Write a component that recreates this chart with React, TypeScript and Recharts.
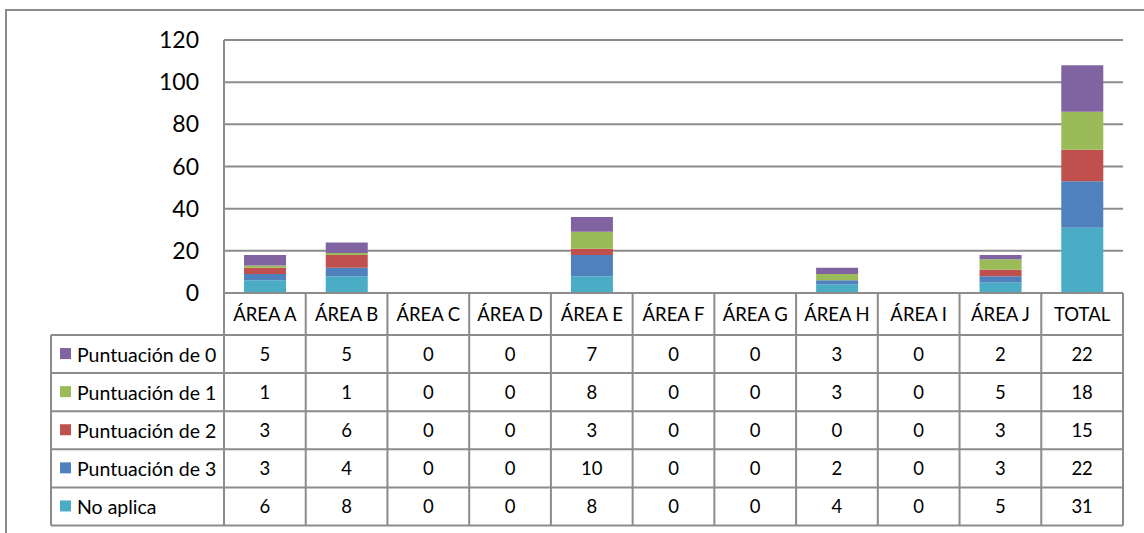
import { BarChart, Bar, XAxis, YAxis, CartesianGrid } from "recharts";

const categories = [
  "ÁREA A",
  "ÁREA B",
  "ÁREA C",
  "ÁREA D",
  "ÁREA E",
  "ÁREA F",
  "ÁREA G",
  "ÁREA H",
  "ÁREA I",
  "ÁREA J",
  "TOTAL",
];

const puntuacion0 = [5, 5, 0, 0, 7, 0, 0, 3, 0, 2, 22];
const puntuacion1 = [1, 1, 0, 0, 8, 0, 0, 3, 0, 5, 18];
const puntuacion2 = [3, 6, 0, 0, 3, 0, 0, 0, 0, 3, 15];
const puntuacion3 = [3, 4, 0, 0, 10, 0, 0, 2, 0, 3, 22];
const noAplica = [6, 8, 0, 0, 8, 0, 0, 4, 0, 5, 31];

const yTicks = [0, 20, 40, 60, 80, 100, 120];

// table order, top to bottom
const series = [
  { key: "p0", name: "Puntuación de 0", color: "#8064A2", values: puntuacion0 },
  { key: "p1", name: "Puntuación de 1", color: "#9BBB59", values: puntuacion1 },
  { key: "p2", name: "Puntuación de 2", color: "#C0504D", values: puntuacion2 },
  { key: "p3", name: "Puntuación de 3", color: "#4F81BD", values: puntuacion3 },
  { key: "na", name: "No aplica", color: "#4BACC6", values: noAplica },
];

const data = categories.map((name, i) => {
  const row: Record<string, string | number> = { name };
  series.forEach((s) => {
    row[s.key] = s.values[i];
  });
  return row;
});

const W = 1144;
const H = 533;
const PLOT_LEFT = 224;
const PLOT_RIGHT = 1123;
const COL_W = (PLOT_RIGHT - PLOT_LEFT) / categories.length;
const HEADER_H = 42;
const ROW_H = 38.1;
const LEGEND_W = 173;
const GRID = "#8c8c8c";
const FONT = "Lato, 'Open Sans', sans-serif";

function TableColumn(props: any) {
  const { x, y, payload } = props;
  const i = categories.indexOf(payload.value);
  const half = COL_W / 2;
  const bottom = y + HEADER_H + ROW_H * series.length;
  const left = x - half;
  return (
    <g>
      {i === 0 && (
        <g>
          <line x1={left} y1={y} x2={left} y2={bottom} stroke={GRID} strokeWidth={2} />
          <line
            x1={left - LEGEND_W}
            y1={y + HEADER_H}
            x2={left - LEGEND_W}
            y2={bottom}
            stroke={GRID}
            strokeWidth={2}
          />
          {series.map((s, r) => (
            <line
              key={"h" + r}
              x1={left - LEGEND_W}
              y1={y + HEADER_H + ROW_H * r}
              x2={PLOT_RIGHT}
              y2={y + HEADER_H + ROW_H * r}
              stroke={GRID}
              strokeWidth={2}
            />
          ))}
          <line
            x1={left - LEGEND_W}
            y1={bottom}
            x2={PLOT_RIGHT}
            y2={bottom}
            stroke={GRID}
            strokeWidth={2}
          />
          {series.map((s, r) => {
            const cy = y + HEADER_H + ROW_H * r + ROW_H / 2;
            return (
              <g key={"l" + r}>
                <rect x={left - LEGEND_W + 9} y={cy - 6} width={11} height={11} fill={s.color} />
                <text
                  x={left - LEGEND_W + 26}
                  y={cy}
                  dominantBaseline="central"
                  fontSize={19.5}
                  fill="#000"
                >
                  {s.name}
                </text>
              </g>
            );
          })}
        </g>
      )}
      <line x1={x + half} y1={y} x2={x + half} y2={bottom} stroke={GRID} strokeWidth={2} />
      <text
        x={x}
        y={y + HEADER_H / 2}
        textAnchor="middle"
        dominantBaseline="central"
        fontSize={18.5}
        fill="#000"
      >
        {payload.value}
      </text>
      {series.map((s, r) => (
        <text
          key={s.key}
          x={x}
          y={y + HEADER_H + ROW_H * r + ROW_H / 2}
          textAnchor="middle"
          dominantBaseline="central"
          fontSize={18.5}
          fill="#000"
        >
          {s.values[i]}
        </text>
      ))}
    </g>
  );
}

// bottom of the stack first
const stackOrder = [...series].reverse();

export default function App() {
  return (
    <div
      style={{
        position: "fixed",
        left: 0,
        top: 0,
        width: W,
        height: H,
        overflow: "hidden",
        background: "#fff",
        fontFamily: FONT,
      }}
    >
      <div
        style={{
          position: "absolute",
          left: 5,
          top: 9,
          width: W + 20,
          height: H + 20,
          border: `2px solid ${GRID}`,
        }}
      />
      <div style={{ position: "absolute", left: 0, top: 0 }}>
        <BarChart
          width={W}
          height={H}
          data={data}
          margin={{ top: 40, right: W - PLOT_RIGHT, bottom: 0, left: PLOT_LEFT - 60 }}
          barCategoryGap="24.5%"
        >
          <CartesianGrid vertical={false} stroke={GRID} strokeWidth={2} />
          <YAxis
            width={60}
            domain={[0, 120]}
            ticks={yTicks}
            interval={0}
            tickLine={false}
            tickSize={0}
            tickMargin={25}
            axisLine={{ stroke: GRID, strokeWidth: 2 }}
            tick={{ fontSize: 23, fill: "#000", fontFamily: FONT }}
          />
          <XAxis
            dataKey="name"
            height={H - 293}
            interval={0}
            tickLine={false}
            tickSize={0}
            tickMargin={0}
            axisLine={{ stroke: GRID, strokeWidth: 2 }}
            tick={<TableColumn />}
          />
          {stackOrder.map((s) => (
            <Bar
              key={s.key}
              dataKey={s.key}
              name={s.name}
              stackId="a"
              fill={s.color}
              isAnimationActive={false}
            />
          ))}
        </BarChart>
      </div>
    </div>
  );
}
